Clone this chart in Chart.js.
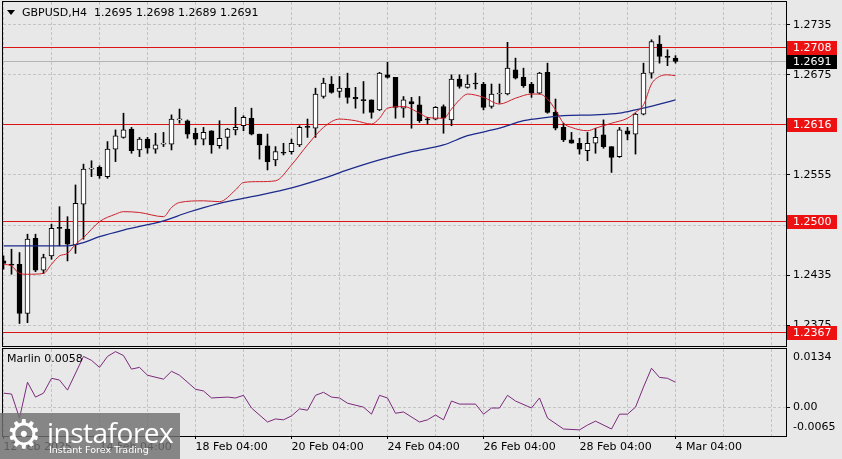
<!DOCTYPE html>
<html>
<head>
<meta charset="utf-8">
<title>GBPUSD,H4</title>
<script src="https://cdn.jsdelivr.net/npm/chart.js@4.4.1/dist/chart.umd.min.js"></script>
<style>
    body { margin: 0; background: #e8e8e8; width: 842px; height: 459px; overflow: hidden; position: relative; font-family: "DejaVu Sans", sans-serif; }
    #mainChart { position: absolute; left: 0; top: 0; }
    #subChart { position: absolute; left: 0; top: 347px; }
    #logo { position: absolute; left: 0; top: 413px; width: 180px; height: 46px; background: rgba(112, 112, 112, 0.82); color: #fff; }
    #logo .gear { position: absolute; left: 6px; top: -2px; font-size: 40px; line-height: 46px; }
    #logo .brand { position: absolute; left: 47px; top: 3px; font-family: "Open Sans", sans-serif; font-size: 28px; line-height: 32px; letter-spacing: -0.5px; }
    #logo .tag { position: absolute; left: 49px; top: 31px; font-family: "DejaVu Sans", sans-serif; font-size: 9.5px; line-height: 12px; }
</style>
</head>
<body>
<canvas id="mainChart" width="842" height="348"></canvas>
<canvas id="subChart" width="842" height="112"></canvas>
<div id="logo"><span class="gear">⚙</span><span class="brand">instaforex</span><span class="tag">Instant Forex Trading</span></div>
<script>
// GBPUSD H4 candles, 12 Feb 04:00 .. 4 Mar 04:00
const opens = [1.2452, 1.2448, 1.2448, 1.2389, 1.2479, 1.2441, 1.2458, 1.2492, 1.2490, 1.2471,
    1.2520, 1.2562, 1.2564, 1.2553, 1.2586, 1.2600, 1.2610, 1.2585, 1.2598, 1.2586,
    1.2592, 1.2592, 1.2621, 1.2620, 1.2605, 1.2598, 1.2608, 1.2590, 1.2600, 1.2609,
    1.2614, 1.2623, 1.2604, 1.2590, 1.2573, 1.2582, 1.2583, 1.2591, 1.2612, 1.2611,
    1.2649, 1.2664, 1.2655, 1.2659, 1.2648, 1.2645, 1.2645, 1.2633, 1.2675, 1.2672,
    1.2635, 1.2643, 1.2639, 1.2621, 1.2622, 1.2637, 1.2621, 1.2670, 1.2660, 1.2664,
    1.2664, 1.2637, 1.2652, 1.2652, 1.2681, 1.2672, 1.2664, 1.2653, 1.2678, 1.2630,
    1.2612, 1.2597, 1.2593, 1.2584, 1.2593, 1.2603, 1.2589, 1.2577, 1.2608, 1.2604,
    1.2628, 1.2677, 1.2712, 1.2697, 1.2695];
const highs = [1.2458, 1.2466, 1.2462, 1.2484, 1.2484, 1.2460, 1.2496, 1.2517, 1.2505, 1.2543,
    1.2568, 1.2572, 1.2566, 1.2595, 1.2609, 1.2629, 1.2612, 1.2600, 1.2600, 1.2605,
    1.2606, 1.2627, 1.2634, 1.2621, 1.2611, 1.2612, 1.2608, 1.2620, 1.2611, 1.2636,
    1.2626, 1.2635, 1.2604, 1.2604, 1.2589, 1.2593, 1.2598, 1.2614, 1.2622, 1.2659,
    1.2671, 1.2673, 1.2673, 1.2677, 1.2660, 1.2667, 1.2645, 1.2678, 1.2690, 1.2672,
    1.2649, 1.2648, 1.2649, 1.2624, 1.2637, 1.2639, 1.2675, 1.2675, 1.2675, 1.2677,
    1.2666, 1.2664, 1.2664, 1.2714, 1.2695, 1.2683, 1.2666, 1.2678, 1.2689, 1.2646,
    1.2617, 1.2606, 1.2599, 1.2606, 1.2611, 1.2621, 1.2589, 1.2612, 1.2612, 1.2629,
    1.2689, 1.2717, 1.2722, 1.2705, 1.2698];
const lows = [1.2442, 1.2436, 1.2377, 1.2378, 1.2439, 1.2437, 1.2454, 1.2470, 1.2452, 1.2461,
    1.2478, 1.2553, 1.2551, 1.2551, 1.2571, 1.2599, 1.2581, 1.2577, 1.2581, 1.2581,
    1.2589, 1.2585, 1.2617, 1.2599, 1.2591, 1.2591, 1.2581, 1.2587, 1.2586, 1.2603,
    1.2608, 1.2603, 1.2574, 1.2561, 1.2566, 1.2579, 1.2580, 1.2589, 1.2600, 1.2600,
    1.2647, 1.2653, 1.2648, 1.2641, 1.2635, 1.2629, 1.2623, 1.2632, 1.2671, 1.2623,
    1.2624, 1.2611, 1.2618, 1.2616, 1.2621, 1.2605, 1.2614, 1.2659, 1.2659, 1.2658,
    1.2633, 1.2635, 1.2641, 1.2651, 1.2670, 1.2660, 1.2648, 1.2652, 1.2629, 1.2609,
    1.2595, 1.2593, 1.2580, 1.2572, 1.2581, 1.2587, 1.2558, 1.2576, 1.2597, 1.2580,
    1.2627, 1.2671, 1.2689, 1.2686, 1.2689];
const closes = [1.2449, 1.2447, 1.2389, 1.2478, 1.2441, 1.2456, 1.2491, 1.2491, 1.2472, 1.2521,
    1.2562, 1.2563, 1.2554, 1.2586, 1.2602, 1.2609, 1.2584, 1.2598, 1.2587, 1.2591,
    1.2593, 1.2622, 1.2622, 1.2604, 1.2598, 1.2606, 1.2591, 1.2599, 1.2610, 1.2612,
    1.2624, 1.2604, 1.2591, 1.2571, 1.2583, 1.2581, 1.2593, 1.2612, 1.2612, 1.2652,
    1.2665, 1.2654, 1.2659, 1.2648, 1.2646, 1.2644, 1.2630, 1.2677, 1.2672, 1.2636,
    1.2645, 1.2640, 1.2620, 1.2621, 1.2636, 1.2623, 1.2670, 1.2661, 1.2664, 1.2664,
    1.2636, 1.2652, 1.2653, 1.2683, 1.2671, 1.2662, 1.2653, 1.2677, 1.2630, 1.2611,
    1.2597, 1.2593, 1.2586, 1.2593, 1.2600, 1.2589, 1.2576, 1.2609, 1.2604, 1.2628,
    1.2677, 1.2715, 1.2697, 1.2696, 1.2691];

// moving averages (bar index, price)
const fastMaAt = [0, 1, 2, 3, 5, 6, 7, 8, 9, 10, 12, 14, 15, 17, 20, 21, 22, 25, 27, 29,
    30, 32, 34, 36, 38, 40, 42, 44, 46, 47, 48, 50, 52, 53, 55, 56, 57, 58, 60, 62,
    64, 66, 67, 68, 69, 70, 71, 73, 74, 76, 78, 79, 80, 81, 82, 83, 84];
const fastMa = [1.2448, 1.2446, 1.2437, 1.2436, 1.2437, 1.2448, 1.2458, 1.2461, 1.2472, 1.2480,
    1.2499, 1.2508, 1.2511, 1.2510, 1.2505, 1.2516, 1.2522, 1.2524, 1.2523, 1.2537,
    1.2546, 1.2547, 1.2548, 1.2567, 1.2591, 1.2612, 1.2622, 1.2620, 1.2616, 1.2623,
    1.2635, 1.2637, 1.2629, 1.2624, 1.2623, 1.2634, 1.2645, 1.2652, 1.2648, 1.2640,
    1.2647, 1.2652, 1.2652, 1.2646, 1.2633, 1.2617, 1.2612, 1.2608, 1.2611, 1.2617,
    1.2623, 1.2630, 1.2639, 1.2664, 1.2673, 1.2675, 1.2674];
const slowMaAt = [0, 5, 8, 10, 12, 15, 20, 23, 27, 31, 35, 40, 43, 47, 51, 55, 58, 62, 65, 68,
    70, 74, 77, 79, 82, 84];
const slowMa = [1.2470, 1.2470, 1.2470, 1.2474, 1.2481, 1.2489, 1.2500, 1.2510, 1.2521, 1.2529,
    1.2537, 1.2551, 1.2561, 1.2573, 1.2583, 1.2591, 1.2602, 1.2611, 1.2620, 1.2624,
    1.2626, 1.2627, 1.2629, 1.2633, 1.2640, 1.2645];

// Marlin oscillator (bar index, value)
const marlinAt = [0, 1, 2, 3, 4, 5, 6, 7, 8, 10, 11, 12, 13, 14, 15, 16, 17, 18, 20, 21,
    22, 24, 25, 26, 28, 29, 30, 31, 33, 34, 35, 36, 37, 38, 39, 40, 41, 42, 43, 45,
    46, 47, 48, 49, 50, 52, 53, 54, 55, 56, 57, 59, 60, 61, 62, 63, 64, 66, 67, 68,
    70, 72, 73, 74, 76, 77, 78, 79, 80, 81, 82, 83, 84];
const marlin = [0.0033, 0.0031, -0.0024, 0.0058, 0.0024, 0.0033, 0.0067, 0.0063, 0.0040, 0.0117,
    0.0108, 0.0092, 0.0117, 0.0128, 0.0119, 0.0088, 0.0092, 0.0074, 0.0065, 0.0083,
    0.0074, 0.0042, 0.0038, 0.0022, 0.0024, 0.0022, 0.0028, -0.0001, -0.0033, -0.0026,
    -0.0028, -0.0019, -0.0003, -0.0006, 0.0028, 0.0035, 0.0024, 0.0022, 0.0010, 0.0001,
    -0.0015, 0.0028, 0.0022, -0.0013, -0.0010, -0.0033, -0.0028, -0.0017, -0.0028, 0.0015,
    0.0008, 0.0008, -0.0015, -0.0001, -0.0001, 0.0028, 0.0015, -0.0001, 0.0022, -0.0024,
    -0.0049, -0.0051, -0.0040, -0.0031, -0.0049, -0.0015, -0.0015, 0.0001, 0.0047, 0.0090,
    0.0069, 0.0067, 0.0058];

const levels = [1.2708, 1.2616, 1.2500, 1.2367];
const bidPrice = 1.2691;
const priceTicks = [1.2735, 1.2675, 1.2615, 1.2555, 1.2495, 1.2435, 1.2375];
const marlinRange = [-0.0065, 0.0134];
const dateLabels = ['12 Feb 2025', '14 Feb 04:00', '18 Feb 04:00', '20 Feb 04:00',
    '24 Feb 04:00', '26 Feb 04:00', '28 Feb 04:00', '4 Mar 04:00'];

Chart.defaults.font.family = '"DejaVu Sans", sans-serif';
Chart.defaults.font.size = 11;
Chart.defaults.color = '#000';

const X_MIN = -0.0625, X_MAX = 97.8125;
const GRID = '#c4c4c4';

function dayTicks(scale) {
    const t = [];
    for (let i = 0; i <= 96; i += 6) t.push({ value: i });
    scale.ticks = t;
}

// stop the scales from reserving room for their end labels
function noPad(s) {
    s.paddingTop = 0;
    s.paddingBottom = 0;
    s.paddingLeft = 0;
    s.paddingRight = 0;
}

const wicks = opens.map((o, i) => ({ x: i, y: [lows[i], highs[i]] }));
const bodies = opens.map((o, i) => ({ x: i, y: [o, closes[i]] }));
const bodyFill = opens.map((o, i) => closes[i] > o ? '#ffffff' : '#000000');

const mainDecor = {
    id: 'mainDecor',
    beforeDatasetsDraw(chart) {
        const { ctx, chartArea: a, scales: { y } } = chart;
        ctx.save();
        // bid line and horizontal levels, 1px rows
        ctx.fillStyle = '#b4b4b4';
        ctx.fillRect(a.left, Math.round(y.getPixelForValue(bidPrice)), a.width, 1);
        ctx.fillStyle = '#dc1414';
        levels.forEach(v => {
            ctx.fillRect(a.left, Math.round(y.getPixelForValue(v)), a.width, 1);
        });
        ctx.restore();
    },
    afterDraw(chart) {
        const { ctx, chartArea: a, scales: { y } } = chart;
        ctx.save();
        ctx.strokeStyle = '#000';
        ctx.lineWidth = 1;
        ctx.strokeRect(a.left - 0.5, a.top - 0.5, a.width + 1, a.height + 1);

        // price labels on the axis
        ctx.font = '11px "DejaVu Sans"';
        ctx.textBaseline = 'middle';
        const tag = (v, bg) => {
            const py = Math.round(y.getPixelForValue(v));
            ctx.fillStyle = bg;
            ctx.fillRect(a.right + 1, py - 6, 50, 14);
            ctx.fillStyle = '#fff';
            ctx.fillText(v.toFixed(4), a.right + 7, py + 1);
        };
        levels.forEach(v => tag(v, '#ee1111'));
        tag(bidPrice, '#000');

        // title
        ctx.fillStyle = '#000';
        ctx.beginPath();
        ctx.moveTo(7, 10); ctx.lineTo(15, 10); ctx.lineTo(11, 15); ctx.closePath();
        ctx.fill();
        const n = opens.length - 1;
        const ohlc = [opens[n], highs[n], lows[n], closes[n]].map(v => v.toFixed(4)).join(' ');
        ctx.fillText('GBPUSD,H4  ' + ohlc, 22, 13);
        ctx.restore();
    }
};

new Chart(document.getElementById('mainChart'), {
    type: 'bar',
    data: {
        datasets: [
            { type: 'line', data: fastMaAt.map((x, i) => ({ x, y: fastMa[i] })), borderColor: '#c8202a', borderWidth: 1, pointRadius: 0, cubicInterpolationMode: 'monotone', order: 0 },
            { type: 'line', data: slowMaAt.map((x, i) => ({ x, y: slowMa[i] })), borderColor: '#1c2a8c', borderWidth: 1.3, pointRadius: 0, cubicInterpolationMode: 'monotone', order: 1 },
            { data: bodies, backgroundColor: bodyFill, borderColor: '#000', borderWidth: 1, borderSkipped: false, barThickness: 5, minBarLength: 1, grouped: false, order: 2 },
            { data: wicks, backgroundColor: '#000', borderWidth: 0, barThickness: 1, grouped: false, order: 3 }
        ]
    },
    options: {
        responsive: false,
        animation: false,
        events: [],
        layout: { padding: { left: 3, top: 2, right: 0, bottom: 2 } },
        plugins: { legend: { display: false }, tooltip: { enabled: false } },
        scales: {
            x: {
                type: 'linear', min: X_MIN, max: X_MAX, offset: false,
                afterBuildTicks: dayTicks,
                afterFit: s => { s.height = 0; noPad(s); },
                ticks: { display: false },
                grid: { color: GRID, drawTicks: false, offset: false },
                border: { display: false, dash: [3, 2] }
            },
            y: {
                position: 'right', min: 1.2350, max: 1.27623,
                afterBuildTicks: s => { s.ticks = priceTicks.map(v => ({ value: v })); },
                afterFit: s => { s.width = 56; noPad(s); },
                ticks: { padding: 3, callback: v => v.toFixed(4) },
                grid: { color: GRID, tickColor: '#000', tickLength: 4 },
                border: { display: false, dash: [3, 2] }
            }
        }
    },
    plugins: [mainDecor]
});

const subDecor = {
    id: 'subDecor',
    afterDraw(chart) {
        const { ctx, chartArea: a, scales: { y } } = chart;
        ctx.save();
        ctx.strokeStyle = '#000';
        ctx.lineWidth = 1;
        ctx.strokeRect(a.left - 0.5, a.top - 0.5, a.width + 1, a.height + 1);
        ctx.fillStyle = '#000';
        ctx.font = '11px "DejaVu Sans"';
        ctx.textBaseline = 'middle';
        ctx.fillText(y.max.toFixed(4), a.right + 7, a.top + 8);
        ctx.fillText(y.min.toFixed(4), a.right + 7, a.bottom - 9);
        ctx.fillText('Marlin ' + marlin[marlin.length - 1].toFixed(4), 7, a.top + 10);
        ctx.restore();
    }
};

new Chart(document.getElementById('subChart'), {
    type: 'line',
    data: {
        datasets: [
            { data: marlinAt.map((x, i) => ({ x, y: marlin[i] })), borderColor: '#7a2a7a', borderWidth: 1, pointRadius: 0, tension: 0 }
        ]
    },
    options: {
        responsive: false,
        animation: false,
        events: [],
        layout: { padding: { left: 3, top: 2, right: 0, bottom: 0 } },
        plugins: { legend: { display: false }, tooltip: { enabled: false } },
        scales: {
            x: {
                type: 'linear', min: X_MIN, max: X_MAX, offset: false,
                afterBuildTicks: dayTicks,
                afterFit: s => { s.height = 23; noPad(s); },
                ticks: {
                    autoSkip: false, maxRotation: 0, align: 'start', padding: 2,
                    callback: v => (v % 12 === 0 && dateLabels[v / 12]) ? dateLabels[v / 12] : ''
                },
                grid: {
                    color: GRID, tickLength: 3,
                    tickColor: c => (c.tick && c.tick.value % 12 === 0 && c.tick.value <= 84) ? '#000' : 'rgba(0,0,0,0)'
                },
                border: { display: false, dash: [3, 2] }
            },
            y: {
                position: 'right', min: marlinRange[0], max: marlinRange[1],
                afterBuildTicks: s => { s.ticks = [{ value: 0 }]; },
                afterFit: s => { s.width = 56; noPad(s); },
                ticks: { padding: 3, callback: () => '0.00' },
                grid: { color: GRID, tickColor: '#000', tickLength: 4 },
                border: { display: false, dash: [3, 2] }
            }
        }
    },
    plugins: [subDecor]
});
</script>
</body>
</html>
